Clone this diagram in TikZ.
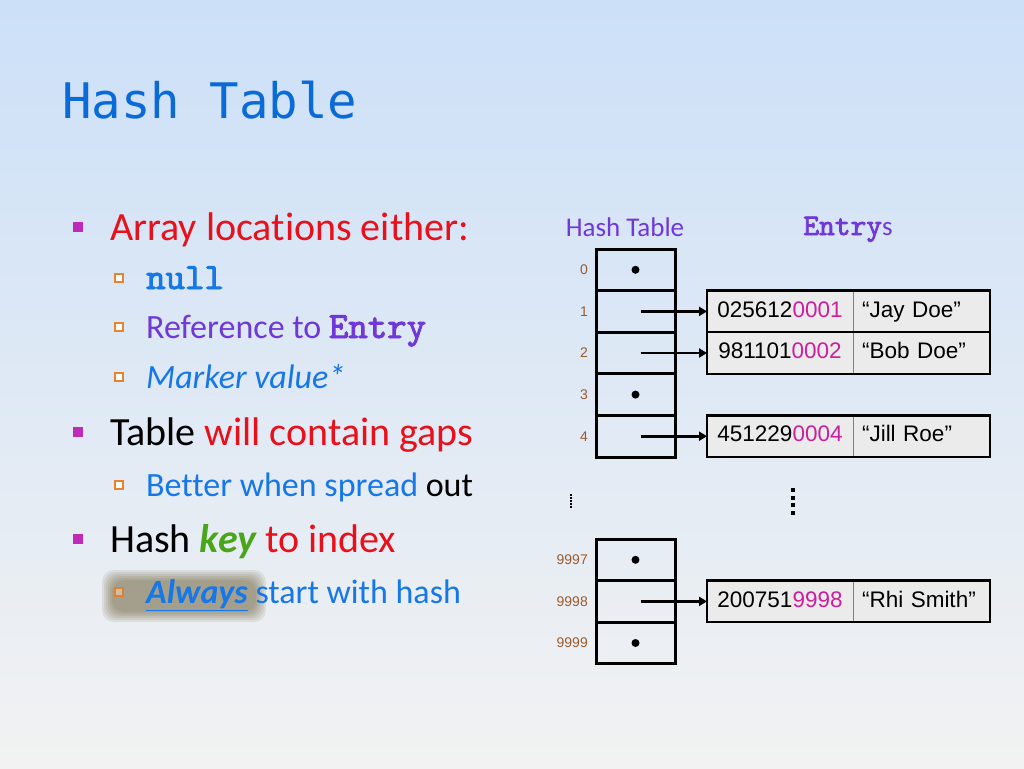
\documentclass[tikz,border=0pt]{standalone}
\usepackage{fontspec}
\setmainfont[Ligatures=NoCommon]{Carlito}
\newfontfamily\titlefont{DejaVu Sans Mono}
\newfontfamily\cellfont{Liberation Sans}
\newfontfamily\codefont[FakeBold=2.5]{lmmono10-regular.otf}
\usetikzlibrary{arrows.meta,positioning}

\definecolor{bgtop}{HTML}{CCE0F8}
\definecolor{bgbot}{HTML}{F2F2F2}
\definecolor{titleblue}{HTML}{0A6AD8}
\definecolor{hred}{HTML}{E8101A}
\definecolor{hblue}{HTML}{1677E6}
\definecolor{hpurple}{HTML}{7038D8}
\definecolor{hgreen}{HTML}{4AA51C}
\definecolor{hmagenta}{HTML}{C02AB8}
\definecolor{horange}{HTML}{E8832E}
\definecolor{idxbrown}{HTML}{9A5B2E}
\definecolor{keypink}{HTML}{CC1E9E}
\definecolor{cellgray}{HTML}{EBEBEB}
\definecolor{glow}{HTML}{5E4E22}

\newcommand\lvlone{\fontsize{40}{48}\selectfont}
\newcommand\lvltwo{\fontsize{34}{40}\selectfont}
\newcommand\code[1]{{\codefont\fontsize{37}{40}\selectfont #1}}
\newcommand\pink[1]{\textcolor{keypink}{#1}}

\begin{document}
\begin{tikzpicture}[
    x=1pt, y=-1pt,
    txt/.style={anchor=base west, inner sep=0pt},
    bulone/.style={fill=hmagenta, minimum size=10pt, inner sep=0pt},
    bultwo/.style={draw=horange, line width=1.2pt, fill=white, minimum size=8pt, inner sep=0pt},
    cell/.style={draw, line width=3pt, minimum width=79pt, minimum height=41.6pt, inner sep=0pt, outer sep=0pt},
    idx/.style={text=idxbrown, font=\cellfont\fontsize{14}{14}\selectfont, inner sep=0pt},
    keybox/.style={fill=cellgray, minimum width=146pt, minimum height=41.6pt, inner sep=0pt, outer sep=0pt,
      text height=16pt, text depth=4.5pt, font=\cellfont\fontsize{22.5}{24}\selectfont},
    namebox/.style={fill=cellgray, text width=119pt, inner xsep=9pt, inner ysep=0pt, outer sep=0pt,
      minimum height=41.6pt, text height=16pt, text depth=4.5pt, align=left,
      font=\cellfont\fontsize{22.5}{24}\selectfont},
    outline/.style={line width=2.5pt},
    divider/.style={draw=gray, line width=0.8pt},
    ptr/.style={-{Triangle[length=8pt,width=9pt]}, line width=2.8pt},
    nul/.style={fill, circle, minimum size=8pt, inner sep=0pt}
  ]
  \shade[top color=bgtop, bottom color=bgbot, middle color=bgtop!50!bgbot] (0,0) rectangle (1024,768);
  \useasboundingbox (0,0) rectangle (1024,768);

  % title
  \node[txt, text=titleblue, font=\titlefont\fontsize{49}{49}\selectfont] (title) at (62,118) {Hash Table};

  % bullets
  \node[bulone] (b1) at (78,227) {};
  \node[txt, font=\lvlone, text=hred] (t1) at (110,240) {Array locations either:};
  \node[bultwo] (b11) at (119,278) {};
  \node[txt, font=\lvltwo, text=hblue] (t11) at (146,289) {\code{null}};
  \node[bultwo] (b12) at (119,327) {};
  \node[txt, font=\lvltwo, text=hpurple] (t12) at (146,338) {Reference to \code{Entry}};
  \node[bultwo] (b13) at (119,377) {};
  \node[txt, font=\lvltwo, text=hblue] (t13) at (146,388) {\itshape Marker value*};
  \node[bulone] (b2) at (78,432) {};
  \node[txt, font=\lvlone] (t2) at (110,445) {Table \textcolor{hred}{will contain gaps}};
  \node[bultwo] (b21) at (119,485) {};
  \node[txt, font=\lvltwo, text=hblue] (t21) at (146,496) {Better when spread \textcolor{black}{out}};
  \node[bulone] (b3) at (78,539) {};
  \node[txt, font=\lvlone] (t3) at (110,552) {Hash \textcolor{hgreen}{\bfseries\itshape key} \textcolor{hred}{to index}};
  % glow behind "Always"
  \foreach \g in {0,2,4,6,8,10}
    \fill[glow, opacity=0.1, rounded corners=12pt] (102+\g,570+\g) rectangle (266-\g,622-\g);
  \node[bultwo, draw=horange!70!brown, fill=horange!30!glow!40] (b31) at (119,592) {};
  \node[txt, font=\lvltwo, text=hblue] (t31) at (146,603) {\underline{\bfseries\itshape Always} start with hash};

  % headers
  \node[anchor=base, text=hpurple, font=\fontsize{27}{27}\selectfont, inner sep=0pt] (hthead) at (625,236) {Hash Table};
  \node[anchor=base, text=hpurple, font=\fontsize{27}{27}\selectfont, inner sep=0pt] (enthead) at (848,235)
    {{\codefont\fontsize{30}{30}\selectfont Entry}s};

  % table cells
  \node[cell] (c0) at (635.5,269.8) {};
  \node[cell, below=0pt of c0] (c1) {};
  \node[cell, below=0pt of c1] (c2) {};
  \node[cell, below=0pt of c2] (c3) {};
  \node[cell, below=0pt of c3] (c4) {};
  \node[cell] (c9997) at (635.5,559.8) {};
  \node[cell, below=0pt of c9997] (c9998) {};
  \node[cell, below=0pt of c9998] (c9999) {};
  \foreach \i in {0,1,2,3,4,9997,9998,9999}
    \node[idx, left=8pt of c\i] (i\i) {\i};
  \foreach \i in {0,3,9997,9999}
    \node[nul] (n\i) at (c\i) {};

  % vertical dots
  \foreach \d in {0,...,4}
    \fill (570.2,494+3*\d) rectangle +(1.6,1.6);
  \foreach \d in {0,...,3}
    \fill (791,488+7.5*\d) rectangle +(4,4);

  % entries
  \node[keybox, right=32pt of c1] (k1) {025612\pink{0001}};
  \node[namebox, right=0pt of k1] (m1) {“Jay Doe”};
  \node[keybox, below=0pt of k1] (k2) {981101\pink{0002}};
  \node[namebox, right=0pt of k2] (m2) {“Bob Doe”};
  \node[keybox, right=32pt of c4] (k4) {451229\pink{0004}};
  \node[namebox, right=0pt of k4] (m4) {“Jill Roe”};
  \node[keybox, right=32pt of c9998] (k9998) {200751\pink{9998}};
  \node[namebox, right=0pt of k9998] (m9998) {“Rhi Smith”};
  \foreach \k in {1,2,4,9998} {
    \draw[divider] (k\k.north east) -- (k\k.south east);
    \draw[outline] (k\k.north west) rectangle (m\k.south east);
  }

  % pointers
  \foreach \k in {1,2,4,9998}
    \draw[ptr] ([xshift=5pt]c\k.center) -- (k\k.west);
\end{tikzpicture}
\end{document}
